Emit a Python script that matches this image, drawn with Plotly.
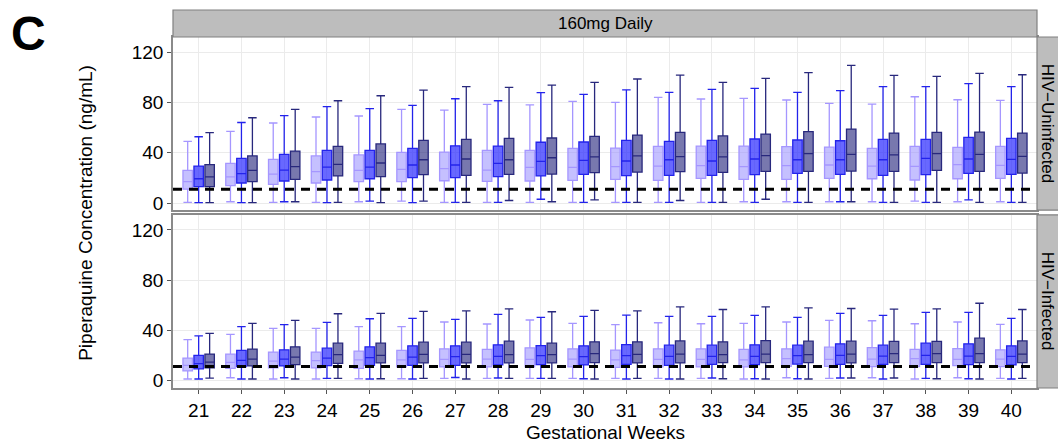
import plotly.graph_objects as go

weeks = list(range(21, 41))
week_labels = [str(w) for w in weeks]
series_names = ["Group 1", "Group 2", "Group 3"]
panel_titles = ["HIV\u2212Uninfected", "HIV\u2212Infected"]
strip_title = "160mg Daily"
y_ticks = [0, 40, 80, 120]
threshold = 11

# ---- HIV-Uninfected (top panel) ----
u1_hi = [49, 57, 63.6, 68.4, 69.2, 74.5, 73.9, 78.5, 78, 80.8, 80, 84, 82.7, 83.2, 81.9, 79.2, 78.7, 84.5, 82.1, 81.6]
u1_q3 = [26, 31.5, 34.7, 37.4, 38.2, 40.3, 40.5, 41.9, 41.9, 43.5, 43.7, 45, 45.3, 45.3, 44.8, 44.5, 43.5, 45, 44.3, 45]
u1_md = [17, 20.7, 23, 25, 26, 26.8, 27.3, 26.2, 28.3, 28.3, 28.9, 29.4, 29.7, 28.9, 29.7, 30.2, 29.4, 29.2, 30.5, 29.9]
u1_q1 = [11, 13.8, 14.8, 15.9, 17, 17, 17.7, 17.2, 17.5, 18, 18.8, 18, 19.6, 18.8, 18.8, 19.6, 19.3, 18.3, 19.3, 19.6]
u1_lo = [0.5, 1, 0.5, 0.5, 1, 1.5, 0.5, 0.5, 0.5, 0.5, 0.5, 0.5, 0.5, 1, 1, 1, 1, 1.5, 1, 1]

u2_hi = [52.7, 64, 69.4, 76.6, 75, 77.7, 82.9, 81.3, 87.7, 86.4, 90, 88, 90.4, 91.2, 88, 89.3, 92.5, 92.5, 94.9, 92.5]
u2_q3 = [29.4, 35.5, 38.7, 41.9, 41.9, 43.5, 45.5, 45.3, 48.3, 48.5, 49.8, 49, 49.8, 50.9, 50.1, 49.5, 50.6, 50.6, 52.2, 51.4]
u2_md = [19.3, 23.3, 26.2, 28.6, 28.6, 30.2, 30.2, 31.5, 33.1, 33.9, 33.4, 34.4, 33.4, 35, 34.4, 34.4, 34.4, 35.5, 35, 34.7]
u2_q1 = [13, 15.9, 17.5, 18.3, 19.3, 20.1, 20.1, 21, 21.5, 22.8, 21.7, 22, 22, 22.5, 23.6, 22.8, 22, 22.5, 23.6, 22.8]
u2_lo = [0.3, 0.3, 1, 0.3, 1.5, 0.3, 0.5, 0.5, 3, 0.5, 0.5, 0.5, 0.5, 0.5, 0.5, 1, 0.5, 0.5, 2.5, 0.5]

u3_hi = [56, 67.8, 74.5, 81.3, 85.3, 89.8, 92.5, 92, 93.8, 95.9, 98.6, 101.7, 95.9, 99.1, 103.6, 109.5, 101.5, 100.7, 103.1, 102]
u3_q3 = [30.5, 37.4, 41.3, 45, 47, 49.8, 50.6, 51.4, 51.7, 53, 54, 56.2, 53.3, 54.8, 56.7, 58.8, 55.6, 56.2, 56.4, 55.6]
u3_md = [20.7, 26, 28.9, 30.7, 31.8, 34.4, 35, 34.4, 36, 36.6, 37.4, 36.8, 36.6, 37.6, 39.2, 38.7, 38.2, 39.2, 38.7, 37.1]
u3_q1 = [13, 17, 18.8, 21.5, 21, 22.5, 22, 22.8, 23, 24.1, 24.6, 24.9, 24.4, 25.2, 25.2, 25.4, 25.2, 26, 25.2, 23.8]
u3_lo = [0.3, 0.3, 1, 0.5, 0.3, 1.5, 0.5, 2, 1, 2.5, 0.5, 2, 0.5, 3, 0.5, 1, 0.5, 0.5, 0.5, 0.5]

# ---- HIV-Infected (bottom panel) ----
i1_hi = [32.5, 36.7, 41.5, 41.5, 42.8, 42.8, 46.5, 44.9, 48.1, 45.4, 44.4, 45.9, 45.1, 45.4, 46.5, 47.8, 47.5, 45.1, 46.5, 44.6]
i1_q3 = [17.7, 20.9, 22.5, 22.5, 23.3, 23.8, 25.1, 24.6, 25.9, 25.1, 24.1, 25.1, 25.1, 24.6, 25.1, 26.4, 26.1, 24.6, 25.3, 24.3]
i1_md = [11.9, 14.3, 15.3, 15.6, 16.2, 16.2, 16.6, 16.9, 16.6, 16.9, 16.2, 16.6, 16.6, 16.2, 17.2, 16.6, 16.9, 17.2, 16.6, 16.9]
i1_q1 = [7.4, 9.5, 9.8, 9.8, 9.5, 10.6, 10.6, 10.6, 10.6, 10.6, 10.3, 10.6, 10.6, 10.6, 11.1, 11.1, 10.8, 10.8, 11.6, 10.8]
i1_lo = [1, 2, 1, 1, 1.2, 1.2, 1.5, 1.5, 1.5, 1.5, 1.5, 1.5, 1.5, 1, 2, 1.5, 2, 1, 2, 1.5]

i2_hi = [35.4, 42.8, 44.4, 46.2, 49.1, 49.4, 48.6, 52.6, 50.2, 51, 52, 51, 51, 51.8, 50.2, 53.4, 51.8, 54.2, 54.2, 49.4]
i2_q3 = [19.8, 23.8, 24.3, 25.6, 26.7, 27.5, 27.5, 28.3, 27.7, 27.5, 28.5, 28, 28, 28.3, 28, 29.1, 28, 29.6, 29.1, 27.5]
i2_md = [13.2, 15.8, 16.9, 17.7, 18, 18.5, 18.8, 19, 19.6, 18.8, 19.6, 19, 19, 19, 19.6, 19.8, 19.3, 19.8, 19.3, 19]
i2_q1 = [9, 10.9, 11.4, 11.6, 11.9, 11.9, 11.9, 12.2, 12.4, 12.2, 12.7, 11.9, 12.7, 12.4, 12.9, 12.7, 12.7, 12.7, 12.4, 12.2]
i2_lo = [1, 1, 2, 1.5, 1, 1, 2.2, 1.8, 1.5, 1.2, 1, 1, 1.8, 1.2, 1.2, 1.8, 1, 1.5, 1.2, 1]

i3_hi = [37.5, 45.4, 47.8, 53.1, 53.4, 55, 55.4, 57, 54.7, 55.8, 55.4, 58.6, 56.5, 58.6, 57.8, 57.3, 56.8, 57, 61.5, 56.5]
i3_q3 = [20.9, 24.9, 26.7, 29.6, 29.6, 30.4, 30.4, 31.2, 29.6, 30.7, 30.7, 31.4, 30.7, 31.7, 31.2, 31.2, 31, 31, 33.6, 31.4]
i3_md = [14.5, 16.9, 18.5, 20.4, 19.8, 20.6, 20.6, 20.4, 20.4, 21.2, 20.6, 20.9, 20.4, 20.9, 20.4, 20.9, 21.2, 21.2, 21.2, 20.9]
i3_q1 = [9.8, 11.4, 12.4, 13.5, 13.8, 13.8, 13.8, 13.8, 13.8, 14, 13.8, 13.8, 14, 14, 14, 13.8, 14, 14, 14, 14]
i3_lo = [1.7, 1, 1, 1.5, 1.2, 1.5, 1, 1.5, 1.5, 1, 1.5, 1, 1.2, 1, 1, 1.8, 1.8, 1.2, 1, 1.5]

fills = ["rgba(150,140,255,0.55)", "rgba(40,40,255,0.70)", "rgba(30,30,120,0.60)"]
lines = ["rgb(165,150,255)", "rgb(35,35,235)", "rgb(40,40,125)"]

top_stats = [
    (u1_lo, u1_q1, u1_md, u1_q3, u1_hi),
    (u2_lo, u2_q1, u2_md, u2_q3, u2_hi),
    (u3_lo, u3_q1, u3_md, u3_q3, u3_hi),
]
bot_stats = [
    (i1_lo, i1_q1, i1_md, i1_q3, i1_hi),
    (i2_lo, i2_q1, i2_md, i2_q3, i2_hi),
    (i3_lo, i3_q1, i3_md, i3_q3, i3_hi),
]

fig = go.Figure()
for stats, xa, ya in [(top_stats, "x2", "y2"), (bot_stats, "x", "y")]:
    for k, (lo, q1, md, q3, hi) in enumerate(stats):
        fig.add_trace(go.Box(
            x=weeks, lowerfence=lo, q1=q1, median=md, q3=q3, upperfence=hi,
            name=series_names[k], offsetgroup=str(k), boxpoints=False,
            fillcolor=fills[k], line=dict(color=lines[k], width=1.3),
            whiskerwidth=0.9, showlegend=False, xaxis=xa, yaxis=ya,
        ))

font_family = "Liberation Sans, Arial, sans-serif"
tick_font = dict(family=font_family, size=19, color="black")
frame = dict(showline=True, mirror=True, linecolor="#8a8a8a", linewidth=1.5,
             showgrid=True, gridcolor="#ebebeb", gridwidth=1, zeroline=False)

fig.update_layout(
    width=1058, height=444,
    margin=dict(l=173, r=21, t=37, b=56, autoexpand=False),
    paper_bgcolor="white", plot_bgcolor="white",
    boxmode="group", boxgap=0.23, boxgroupgap=0.14,
    font=dict(family=font_family, color="black"),
    xaxis=dict(domain=[0, 1], anchor="y", range=[20.4, 40.6], automargin=False,
               tickvals=weeks, ticktext=week_labels, ticks="outside", ticklen=4,
               tickcolor="#555555", tickfont=tick_font, **frame),
    xaxis2=dict(domain=[0, 1], anchor="y2", range=[20.4, 40.6], automargin=False,
                tickvals=weeks, showticklabels=False, ticks="", **frame),
    yaxis=dict(domain=[0, 0.493], range=[-6.2, 132], tickvals=y_ticks, automargin=False,
               ticks="outside", ticklen=4, tickcolor="#555555", tickfont=tick_font, **frame),
    yaxis2=dict(domain=[0.507, 1], range=[-5.6, 132], tickvals=y_ticks, automargin=False,
                ticks="outside", ticklen=4, tickcolor="#555555", tickfont=tick_font, **frame),
)

# Threshold dashed lines
for yref in ["y", "y2"]:
    fig.add_shape(type="line", xref="paper", yref=yref, x0=0, x1=1, y0=threshold, y1=threshold,
                  line=dict(color="black", width=3, dash="9px,7px"), layer="above")

# Strips
strip_fill = "#bdbdbd"
strip_line = "#808080"
fig.add_shape(type="rect", xref="paper", yref="paper", x0=0, x1=1, y0=1.0, y1=1.0769,
              fillcolor=strip_fill, line=dict(color=strip_line, width=1.2))
fig.add_annotation(xref="paper", yref="paper", x=0.5, y=1.0385, xanchor="center", yanchor="middle",
                   text=strip_title, showarrow=False,
                   font=dict(size=17, color="black", family=font_family))
for (y0, y1), title in zip([(0.507, 1.0), (0.0, 0.493)], panel_titles):
    fig.add_shape(type="rect", xref="paper", yref="paper", x0=1.0, x1=1.03, y0=y0, y1=y1,
                  fillcolor=strip_fill, line=dict(color=strip_line, width=1.2))
    fig.add_annotation(xref="paper", yref="paper", x=1.0125, y=(y0 + y1) / 2, text=title,
                       textangle=90, showarrow=False, xanchor="center", yanchor="middle",
                       font=dict(size=17, color="black", family=font_family))

# Axis titles
fig.add_annotation(xref="paper", yref="paper", x=0.5, y=-0.127, xanchor="center", yanchor="middle",
                   text="Gestational Weeks", showarrow=False,
                   font=dict(size=19, color="black", family=font_family))
fig.add_annotation(xref="paper", yref="paper", x=-0.1015, y=0.5, xanchor="center", yanchor="middle",
                   text="Piperaquine Concentration (ng/mL)", textangle=-90, showarrow=False,
                   font=dict(size=19, color="black", family=font_family))
# Panel letter
fig.add_annotation(xref="paper", yref="paper", x=-0.19, y=1.09, xanchor="left", yanchor="top",
                   text="<b>C</b>", showarrow=False,
                   font=dict(size=48, color="black", family=font_family))

fig.write_html("out.html")
